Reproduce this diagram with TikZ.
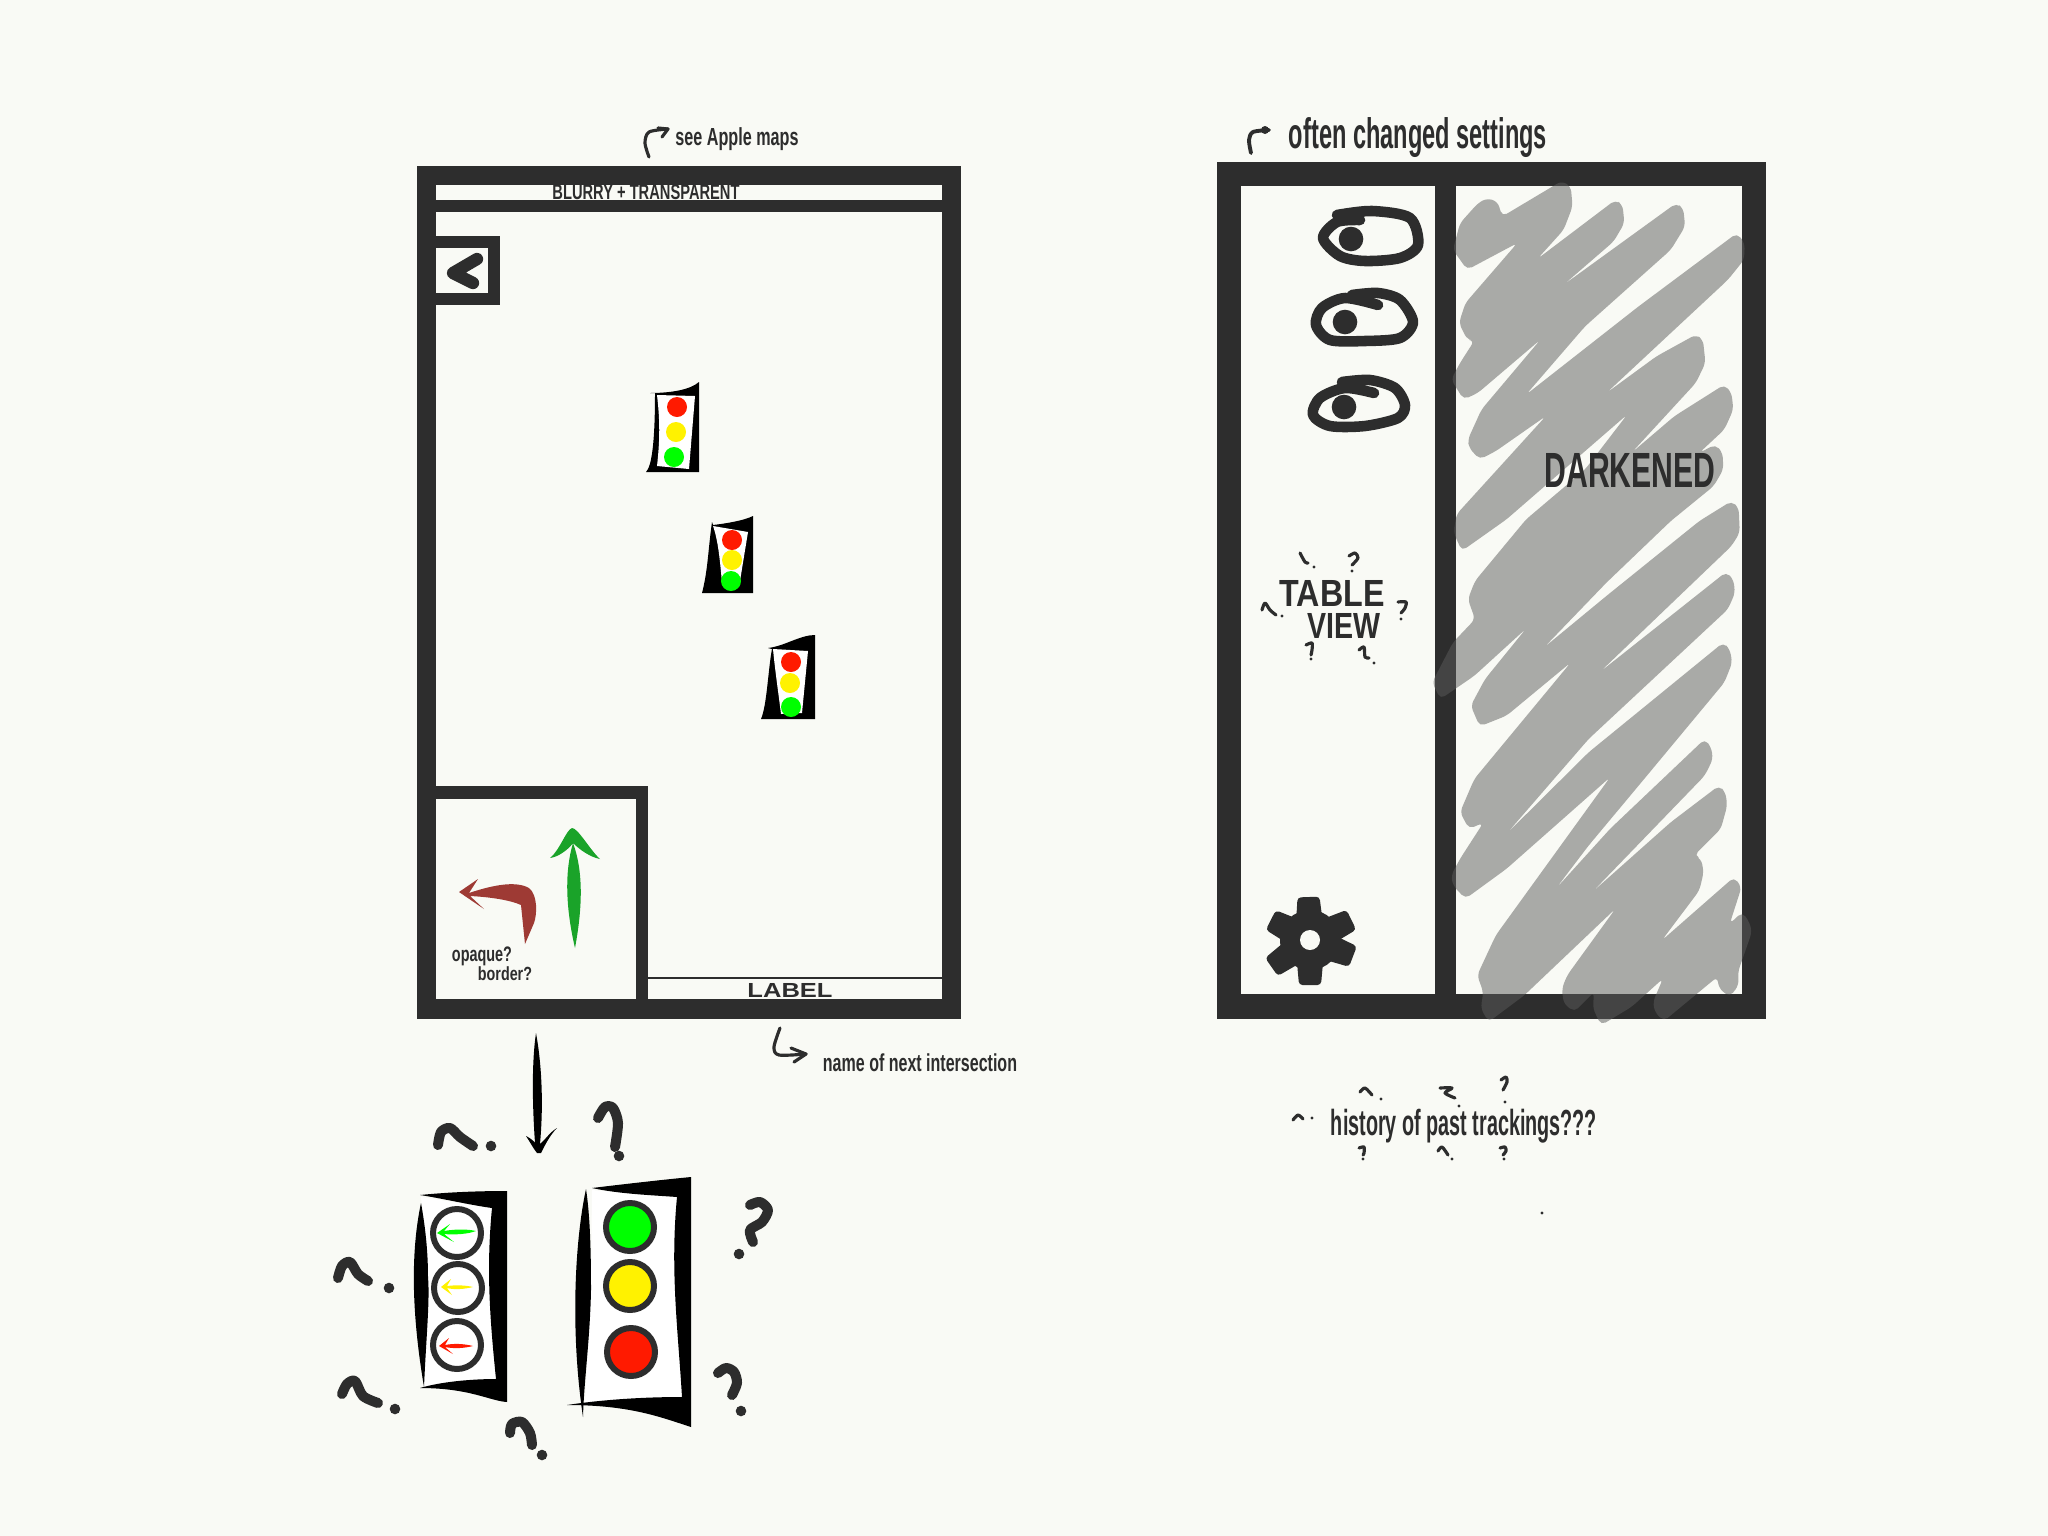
\documentclass[tikz,border=0pt]{standalone}
\usepackage{graphicx}
\usepackage{fontspec}
\setmainfont{Liberation Sans}
\definecolor{cPaper}{HTML}{F9FAF5}
\definecolor{cInk}{HTML}{2D2D2D}
\definecolor{cScrib}{HTML}{5B5B5B}
\definecolor{cGo}{HTML}{1AA329}
\definecolor{cTurn}{HTML}{9E3A34}
\definecolor{cRed}{HTML}{FF1A00}
\definecolor{cAmber}{HTML}{FFF200}
\definecolor{cLime}{HTML}{00FF00}
\usetikzlibrary{positioning}
\tikzset{
  frame/.style={fill=cInk},
  pane/.style={fill=cPaper},
  hand/.style={inner sep=0pt,text=cInk,align=center,font=\bfseries},
  mark-big/.style={draw=cInk,line width=2.85pt,line cap=round,line join=round},
  mark-small/.style={draw=cInk,line width=.9pt,line cap=round,line join=round},
  note-arrow/.style={draw=cInk,line width=.9pt,line cap=round,line join=round},
  eye/.style={draw=cInk,line width=3pt,line cap=round,line join=round},
  ring/.style={draw=cInk,line width=1.7pt},
  lamp/.style={radius=10},
  housing/.style={fill=black},
  glass/.style={fill=white},
}
\newcommand{\fitbox}[3]{\resizebox*{#1}{#2}{#3}}

\begin{document}
\begin{tikzpicture}[x=0.01cm,y=-0.01cm]
  \useasboundingbox (0,0) rectangle (2048,1536);
  \fill[cPaper] (0,0) rectangle (2048,1536);

  % left screen
  \fill[frame] (417,166) rectangle (961,1019);
  \fill[pane] (436,185) rectangle (941.5,200);
  \fill[pane] (436,212) rectangle (941.5,977);
  \fill[pane] (648,979) rectangle (941.5,999);
  \fill[frame] (436,236) rectangle (499.5,305);
  \fill[pane] (436,248) rectangle (488,293);
  \draw[mark-big,line width=3.5pt] (477,259) -- (453,273) -- (473,283);
  \fill[frame] (436,786) rectangle (648,999);
  \fill[pane] (436,799) rectangle (636,999);

  \node[hand] (blurry) at (646,192) {\fitbox{1.87cm}{.15cm}{BLURRY + TRANSPARENT}};
  \node[hand] (label) at (790,990) {\fitbox{.85cm}{.14cm}{LABEL}};
  \node[hand] (apple) at (737,139) {\fitbox{1.23cm}{.23cm}{see Apple maps}};
  \node[hand] (nextname) at (920,1063) {\fitbox{1.94cm}{.18cm}{name of next intersection}};
  \node[hand] (opaque) at (482,956) {\fitbox{.6cm}{.19cm}{opaque?}};
  \node[hand] (border) at (505,974) {\fitbox{.54cm}{.14cm}{border?}};

  \draw[note-arrow] plot[smooth] coordinates {(649,157) (645,143) (649,132) (668,129)};
  \draw[note-arrow] (658,128) -- (668,129) -- (662,137);
  \draw[note-arrow] plot[smooth] coordinates {(780,1028) (774,1047) (779,1055) (806,1054)};
  \draw[note-arrow] (791,1048) -- (806,1054) -- (794,1062);

  % signals on the map
  \fill[housing] (650,393) .. controls (670,393) and (690,390) .. (699,382) -- (699,472) -- (646,472)
    .. controls (652,466) and (655,440) .. (655,393) -- cycle;
  \fill[glass] (657,395) -- (695,396) -- (689,469) -- (657,466) .. controls (660,440) and (660,420) .. cycle;
  \fill[cRed,lamp] (677,407) circle;
  \fill[cAmber,lamp] (676,432) circle;
  \fill[cLime,lamp] (674,457) circle;

  \fill[housing] (712,522) -- (713,525) .. controls (730,523) and (745,520) .. (753,516) -- (753,593) -- (702,593)
    .. controls (708,570) and (708,550) .. cycle;
  \fill[glass] (713,526) -- (748,532) -- (739,587) -- (722,583) .. controls (720,560) and (718,540) .. cycle;
  \fill[cRed,lamp] (732,540) circle;
  \fill[cAmber,lamp] (732,560) circle;
  \fill[cLime,lamp] (731,581) circle;

  \fill[housing] (768,648) .. controls (785,646) and (800,635) .. (815,635) -- (815,719) -- (761,719)
    .. controls (767,705) and (768,670) .. (772,649) -- cycle;
  \fill[glass] (773,649) -- (808,651) -- (802,713) -- (781,714) .. controls (778,690) and (775,670) .. cycle;
  \fill[cRed,lamp] (791,662) circle;
  \fill[cAmber,lamp] (790,683) circle;
  \fill[cLime,lamp] (791,707) circle;

  % turn arrows
  \fill[cGo] (572,828) .. controls (578,828) and (590,850) .. (600,859) .. controls (590,857) and (580,850) .. (573,843)
    .. controls (583,870) and (583,905) .. (575,948) .. controls (565,905) and (565,870) .. (573,843)
    .. controls (568,850) and (558,857) .. (550,858) .. controls (560,850) and (566,830) .. (572,828) -- cycle;
  \fill[cTurn] (459,892) -- (478,879) -- (469,893) .. controls (490,886) and (515,880) .. (529,888)
    .. controls (538,895) and (537,915) .. (534,923) -- (525,944) -- (521,905)
    .. controls (510,900) and (490,897) .. (470,896) -- (484,909) -- cycle;

  % big down arrow
  \fill[black] (536,1033) .. controls (541,1060) and (544,1100) .. (540,1144) .. controls (545,1140) and (550,1132) .. (557,1128)
    .. controls (550,1135) and (545,1145) .. (541,1153) -- (537,1153) .. controls (533,1148) and (530,1142) .. (526,1136)
    .. controls (530,1138) and (534,1141) .. (535,1143) .. controls (532,1100) and (532,1060) .. (536,1033) -- cycle;

  % detail of the signals
  \fill[glass] (421,1197) -- (492,1208) -- (496,1379) -- (424,1387) -- (428,1277) -- cycle;
  \fill[housing] (420,1195) .. controls (450,1192) and (480,1191) .. (507,1191) -- (507,1402)
    .. controls (490,1401) and (470,1388) .. (420,1388) .. controls (440,1382) and (470,1379) .. (496,1379)
    .. controls (490,1320) and (486,1270) .. (492,1208) .. controls (470,1205) and (440,1198) .. (420,1195) -- cycle;
  \fill[housing] (421,1203) .. controls (411,1250) and (411,1310) .. (424,1387) .. controls (426,1340) and (430,1300) .. (428,1277)
    .. controls (428,1250) and (425,1225) .. (421,1203) -- cycle;
  \draw[ring] (457,1233) circle[radius=24];
  \draw[ring] (458,1288) circle[radius=24];
  \draw[ring] (457,1345) circle[radius=24];
  \fill[cLime] (437,1233) -- (450,1224) -- (444,1231) .. controls (455,1229) and (468,1229) .. (476,1231)
    .. controls (468,1234) and (455,1235) .. (444,1234) -- (454,1242) -- cycle;
  \fill[yellow] (441,1287) -- (451,1279) -- (447,1286) .. controls (455,1285) and (465,1285) .. (473,1287)
    .. controls (465,1289) and (455,1290) .. (447,1288) -- (452,1295) -- cycle;
  \fill[cRed] (439,1346) -- (449,1338) -- (445,1345) .. controls (455,1343) and (465,1344) .. (473,1346)
    .. controls (465,1348) and (455,1349) .. (445,1347) -- (453,1354) -- cycle;

  \fill[glass] (592,1190) -- (677,1197) -- (682,1397) -- (585,1403) -- (591,1290) -- cycle;
  \fill[housing] (592,1188) .. controls (625,1184) and (660,1180) .. (691,1177) -- (691,1427)
    .. controls (660,1417) and (630,1405) .. (567,1405) .. controls (600,1400) and (640,1397) .. (682,1397)
    .. controls (678,1330) and (670,1270) .. (677,1197) .. controls (650,1195) and (620,1194) .. (592,1188) -- cycle;
  \fill[housing] (586,1189) .. controls (575,1240) and (570,1330) .. (583,1417) .. controls (584,1380) and (590,1340) .. (591,1290)
    .. controls (591,1250) and (590,1215) .. (586,1189) -- cycle;
  \draw[ring,fill=cLime] (630,1227) circle[radius=24];
  \draw[ring,fill=yellow] (630,1286) circle[radius=24];
  \draw[ring,fill=cRed] (631,1352) circle[radius=24];

  % doubts around the signals
  \draw[mark-big] plot[smooth] coordinates {(438,1145) (441,1132) (450,1128) (460,1137) (473,1146)};
  \draw[mark-big] plot[smooth] coordinates {(338,1278) (342,1266) (350,1262) (358,1274) (368,1281)};
  \draw[mark-big] plot[smooth] coordinates {(342,1394) (347,1384) (355,1381) (363,1396) (378,1403)};
  \draw[mark-big] plot[smooth] coordinates {(598,1118) (605,1107) (613,1108) (618,1123) (615,1147)};
  \draw[mark-big] plot[smooth] coordinates {(750,1205) (760,1202) (768,1210) (762,1222) (750,1230) (753,1242)};
  \draw[mark-big] plot[smooth] coordinates {(718,1373) (726,1368) (734,1372) (737,1383) (732,1395)};
  \draw[mark-big] plot[smooth] coordinates {(510,1433) (512,1424) (522,1422) (530,1433) (532,1445)};
  \foreach \dotx/\doty in {491/1146,389/1288,395/1409,619/1156,739/1254,741/1411,542/1455}
    \fill[cInk] (\dotx,\doty) circle[radius=5.3];

  % right screen
  \fill[frame] (1217,162) rectangle (1766,1019);
  \fill[pane] (1241,186) rectangle (1435,994);
  \fill[pane] (1456,186) rectangle (1742,994);

  \begin{scope}[shift={(1210,110)},x=0.00357cm,y=-0.00333cm]
    \fill[cScrib,opacity=.5,rounded corners=1.5pt] (680,420) -- (700,340) -- (750,280) -- (775,265) -- (805,275) -- (818,320)
      -- (985,213) -- (1010,230) -- (1015,290) -- (990,360) -- (917,447) -- (1135,270) -- (1155,285) -- (1160,340)
      -- (1130,395) -- (990,525) -- (1305,280) -- (1325,295) -- (1330,350) -- (1290,420) -- (1050,650) -- (885,855)
      -- (1200,590) -- (1475,370) -- (1497,400) -- (1495,450) -- (1450,510) -- (1110,850) -- (1250,740) -- (1360,675)
      -- (1380,690) -- (1387,760) -- (1360,820) -- (1180,1030) -- (1300,920) -- (1440,825) -- (1460,850) -- (1465,900)
      -- (1440,960) -- (1370,1030) -- (1415,1005) -- (1435,1030) -- (1437,1080) -- (1410,1130) -- (1290,1235)
      -- (1110,1420) -- (935,1615) -- (1110,1460) -- (1370,1235) -- (1460,1175) -- (1480,1195) -- (1483,1270)
      -- (1460,1310) -- (1100,1680) -- (915,1890) -- (1090,1690) -- (1445,1388) -- (1465,1410) -- (1470,1450)
      -- (1450,1500) -- (1060,1890) -- (830,2175) -- (1060,1930) -- (1437,1600) -- (1455,1620) -- (1462,1660)
      -- (1440,1720) -- (1200,2030) -- (1060,2210) -- (968,2340) -- (1120,2160) -- (1385,1890) -- (1403,1915)
      -- (1408,1950) -- (1385,2000) -- (1070,2350) -- (1290,2140) -- (1425,2030) -- (1443,2050) -- (1448,2090)
      -- (1430,2160) -- (1355,2240) -- (1375,2250) -- (1382,2290) -- (1370,2345) -- (1265,2495) -- (1467,2305)
      -- (1488,2335) -- (1455,2445) -- (1490,2410) -- (1510,2440) -- (1517,2470) -- (1478,2590) -- (1480,2630)
      -- (1455,2665) -- (1425,2640) -- (1420,2605) -- (1270,2738) -- (1245,2710) -- (1240,2680) -- (1268,2610)
      -- (1180,2695) -- (1095,2750) -- (1072,2700) -- (1075,2650) -- (1020,2710) -- (990,2685) -- (985,2640)
      -- (1000,2600) -- (1135,2400) -- (880,2660) -- (780,2740) -- (758,2700) -- (765,2650) -- (748,2600)
      -- (800,2480) -- (1120,2005) -- (830,2280) -- (715,2370) -- (680,2330) -- (675,2300) -- (700,2250)
      -- (765,2142) -- (725,2160) -- (700,2110) -- (740,2010) -- (1010,1660) -- (830,1820) -- (755,1852)
      -- (730,1790) -- (770,1710) -- (885,1558) -- (740,1700) -- (645,1770) -- (622,1720) -- (680,1600)
      -- (742,1530) -- (722,1470) -- (742,1415) -- (885,1230) -- (1050,1080) -- (1168,915) -- (830,1230)
      -- (705,1325) -- (682,1270) -- (690,1215) -- (940,920) -- (800,1025) -- (755,1050) -- (725,1015)
      -- (722,990) -- (760,900) -- (925,690) -- (750,850) -- (710,870) -- (675,810) -- (700,760) -- (740,693)
      -- (720,690) -- (697,640) -- (715,580) -- (860,400) -- (720,480) -- cycle;
  \end{scope}

  \node[hand] (darkened) at (1630,470) {\fitbox{1.71cm}{.34cm}{DARKENED}};
  \node[hand] (settings) at (1418,138) {\fitbox{2.58cm}{.4cm}{often changed settings}};
  \node[hand] (table) at (1332,593) {\fitbox{1.05cm}{.26cm}{TABLE}};
  \node[hand] (view) at (1344,626) {\fitbox{.73cm}{.25cm}{VIEW}};
  \node[hand] (history) at (1464,1126) {\fitbox{2.66cm}{.34cm}{history of past trackings???}};

  \draw[note-arrow,line width=1.1pt] plot[smooth] coordinates {(1251,153) (1249,140) (1253,132) (1269,130)};
  \fill[cInk] (1265,130) circle[radius=4];

  % settings rows
  \draw[eye] plot[smooth] coordinates {(1337,215) (1372,211) (1410,218) (1418,245) (1400,258) (1365,261) (1340,256) (1323,238) (1337,222) (1360,220)};
  \fill[cInk] (1351,239) circle[radius=12.3];
  \draw[eye] plot[smooth] coordinates {(1378,305) (1345,298) (1322,308) (1316,325) (1330,340) (1365,341) (1400,338) (1413,322) (1400,300) (1378,293) (1352,295)};
  \fill[cInk] (1345,322) circle[radius=12.3];
  \draw[eye] plot[smooth] coordinates {(1374,393) (1345,388) (1320,398) (1313,415) (1330,426) (1365,426) (1398,418) (1405,405) (1395,388) (1370,380) (1342,382)};
  \fill[cInk] (1344,407) circle[radius=12.3];

  \draw[mark-small] plot[smooth] coordinates {(1262,610) (1265,603) (1270,610) (1276,615)};
  \draw[mark-small] plot[smooth] coordinates {(1300,553) (1305,562) (1308,563)};
  \draw[mark-small] plot[smooth] coordinates {(1349,556) (1355,553) (1358,558) (1352,565)};
  \draw[mark-small] plot[smooth] coordinates {(1398,602) (1406,602) (1405,608) (1401,613)};
  \draw[mark-small] plot[smooth] coordinates {(1306,645) (1312,643) (1312,650) (1311,655)};
  \draw[mark-small] plot[smooth] coordinates {(1359,650) (1364,647) (1365,657) (1369,658)};
  \foreach \dotx/\doty in {1282/616,1314/567,1352/571,1401/619,1311/659,1374/663}
    \fill[cInk] (\dotx,\doty) circle[radius=1.7];

  % gear
  \fill[cInk] (1310,940) circle[radius=30];
  \foreach \toothangle/\toothlen in {-92/43,-26/46,21/46,90/45,145/47,207/44}
    \fill[cInk,rounded corners=1pt,shift={(1310,940)},rotate=-\toothangle]
      (0,-15) -- (\toothlen,-11) -- (\toothlen,11) -- (0,15) -- cycle;
  \fill[cPaper] (1310,940) circle[radius=10];

  % doubts around the caption
  \draw[mark-small] plot[smooth] coordinates {(1293,1120) (1298,1115) (1303,1119)};
  \draw[mark-small] plot[smooth] coordinates {(1360,1092) (1365,1088) (1372,1095)};
  \draw[mark-small] plot[smooth] coordinates {(1440,1088) (1452,1088) (1445,1093) (1455,1098)};
  \draw[mark-small] plot[smooth] coordinates {(1501,1080) (1506,1077) (1507,1082) (1503,1090)};
  \draw[mark-small] plot[smooth] coordinates {(1359,1148) (1364,1147) (1364,1153) (1363,1155)};
  \draw[mark-small] plot[smooth] coordinates {(1438,1151) (1442,1147) (1448,1155)};
  \draw[mark-small] plot[smooth] coordinates {(1500,1148) (1505,1147) (1506,1151) (1503,1155)};
  \foreach \dotx/\doty in {1312/1118,1381/1099,1459/1106,1505/1102,1363/1159,1452/1159,1504/1159,1542/1213}
    \fill[cInk] (\dotx,\doty) circle[radius=1.7];
\end{tikzpicture}
\end{document}
